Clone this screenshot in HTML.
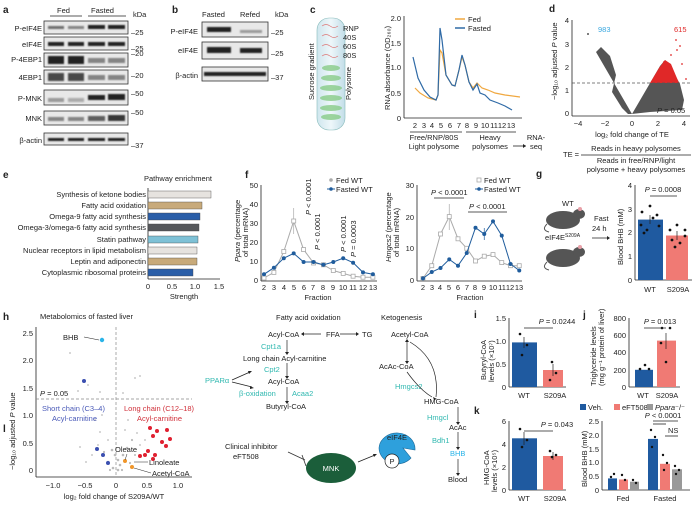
<!DOCTYPE html>
<html><head><meta charset="utf-8"><style>
html,body{margin:0;padding:0;background:#fff;}
svg{display:block;font-family:"Liberation Sans",Arial,sans-serif;}
text{fill:#222;}
.s{font-size:7.5px}
.b{font-weight:bold;font-size:10px}
.ax{stroke:#222;stroke-width:0.8;fill:none}
</style></head><body>
<svg width="693" height="505" viewBox="0 0 693 505">
<defs>
<filter id="bl"><feGaussianBlur stdDeviation="0.9"/></filter>
<linearGradient id="tube" x1="0" x2="1"><stop offset="0" stop-color="#cfe6ee"/><stop offset="0.5" stop-color="#eef7fa"/><stop offset="1" stop-color="#c2dde8"/></linearGradient>
</defs>

<!-- ===== a ===== -->
<text x="3" y="13" class="b">a</text>
<text x="57" y="13" class="s">Fed</text><line x1="50" y1="16" x2="82" y2="16" class="ax"/>
<text x="91" y="13" class="s">Fasted</text><line x1="88" y1="16" x2="126" y2="16" class="ax"/>
<text x="133" y="17" class="s">kDa</text>
<g class="s" text-anchor="end">
<text x="42" y="31">P-eIF4E</text><text x="42" y="47">eIF4E</text><text x="42" y="62">P-4EBP1</text>
<text x="42" y="80">4EBP1</text><text x="42" y="101">P-MNK</text><text x="42" y="121">MNK</text><text x="42" y="143">β-actin</text>
</g>
<g fill="#e8e8e8" stroke="#333" stroke-width="0.8">
<rect x="44" y="21" width="84" height="13"/><rect x="44" y="37" width="84" height="13"/>
<rect x="44" y="53" width="84" height="14"/><rect x="44" y="70" width="84" height="14"/>
<rect x="44" y="90" width="84" height="15"/><rect x="44" y="111" width="84" height="14"/>
<rect x="44" y="133" width="84" height="12"/>
</g>
<g filter="url(#bl)" fill="#222">
<rect x="48" y="26" width="16" height="3" opacity=".6"/><rect x="68" y="26" width="16" height="3" opacity=".5"/><rect x="88" y="25" width="17" height="4"/><rect x="108" y="25" width="17" height="4"/>
<rect x="48" y="42" width="16" height="4"/><rect x="68" y="42" width="16" height="4"/><rect x="88" y="42" width="17" height="4"/><rect x="108" y="42" width="17" height="4"/>
<rect x="48" y="56" width="16" height="8"/><rect x="68" y="56" width="16" height="8"/><rect x="88" y="58" width="17" height="5" opacity=".5"/><rect x="108" y="58" width="17" height="5" opacity=".5"/>
<rect x="48" y="73" width="16" height="8" opacity=".8"/><rect x="68" y="73" width="16" height="8" opacity=".8"/><rect x="88" y="75" width="17" height="5" opacity=".5"/><rect x="108" y="75" width="17" height="5" opacity=".5"/>
<rect x="48" y="98" width="16" height="4" opacity=".4"/><rect x="68" y="98" width="16" height="4" opacity=".3"/><rect x="88" y="95" width="17" height="5"/><rect x="108" y="94" width="17" height="6"/>
<rect x="48" y="117" width="16" height="4" opacity=".5"/><rect x="68" y="117" width="16" height="4" opacity=".5"/><rect x="88" y="116" width="17" height="5" opacity=".7"/><rect x="108" y="115" width="17" height="6" opacity=".9"/>
<rect x="48" y="138" width="16" height="3"/><rect x="68" y="138" width="16" height="3"/><rect x="88" y="138" width="17" height="3"/><rect x="108" y="138" width="17" height="3"/>
</g>
<g class="s"><text x="131" y="35">–25</text><text x="131" y="51">–25</text><text x="131" y="56">–20</text><text x="131" y="78">–20</text><text x="131" y="96">–50</text><text x="131" y="115">–50</text><text x="131" y="148">–37</text></g>

<!-- ===== b ===== -->
<text x="172" y="13" class="b">b</text>
<text x="202" y="17" class="s">Fasted</text><text x="240" y="17" class="s">Refed</text><text x="275" y="17" class="s">kDa</text>
<g class="s" text-anchor="end"><text x="198" y="34">P-eIF4E</text><text x="198" y="53">eIF4E</text><text x="198" y="78">β-actin</text></g>
<g fill="#e8e8e8" stroke="#333" stroke-width="0.8"><rect x="202" y="22" width="66" height="15"/><rect x="202" y="42" width="66" height="17"/><rect x="202" y="67" width="66" height="14"/></g>
<g filter="url(#bl)" fill="#222"><rect x="207" y="27" width="24" height="5"/><rect x="240" y="30" width="22" height="3" opacity=".4"/>
<rect x="207" y="47" width="24" height="6"/><rect x="240" y="48" width="22" height="5"/>
<rect x="204" y="72" width="62" height="4"/></g>
<g class="s"><text x="271" y="35">–25</text><text x="271" y="56">–25</text><text x="271" y="80">–37</text></g>

<!-- ===== c ===== -->
<text x="310" y="13" class="b">c</text>
<rect x="317" y="18" width="28" height="112" rx="12" fill="url(#tube)" stroke="#8bb" stroke-width="0.6"/>
<g stroke="#d77" stroke-width="0.7" fill="none"><path d="M322,26 q4,-3 8,0 t8,0"/><path d="M322,36 q4,-3 8,0 t8,0"/><path d="M322,46 q4,-3 8,0 t8,0"/><path d="M322,56 q4,-3 8,0 t8,0"/></g>
<g fill="#8c8" opacity=".8"><ellipse cx="331" cy="68" rx="9" ry="3"/><ellipse cx="331" cy="78" rx="10" ry="3"/><ellipse cx="331" cy="88" rx="11" ry="3"/><ellipse cx="331" cy="98" rx="11" ry="3"/><ellipse cx="331" cy="108" rx="11" ry="3"/><ellipse cx="331" cy="117" rx="10" ry="3"/></g>
<g class="s"><text x="343" y="31">RNP</text><text x="343" y="40">40S</text><text x="343" y="49">60S</text><text x="343" y="58">80S</text></g>
<text transform="translate(314,100) rotate(-90)" class="s">Sucrose gradient</text>
<text transform="translate(351,100) rotate(-90)" class="s">Polysome</text>
<line x1="404" y1="16" x2="404" y2="118" class="ax"/><line x1="404" y1="118" x2="522" y2="118" class="ax"/>
<g class="s" text-anchor="end"><text x="401" y="21">2.0</text><text x="401" y="46">1.5</text><text x="401" y="70">1.0</text><text x="401" y="96">0.5</text><text x="401" y="121">0</text></g>
<text transform="translate(390,110) rotate(-90)" class="s">RNA absorbance (OD₂₆₀)</text>
<g class="s" text-anchor="middle">
<text x="415" y="128">2</text><text x="424" y="128">3</text><text x="432" y="128">4</text><text x="441" y="128">5</text><text x="450" y="128">6</text><text x="459" y="128">7</text><text x="467" y="128">8</text><text x="476" y="128">9</text><text x="485" y="128">10</text><text x="494" y="128">11</text><text x="502" y="128">12</text><text x="511" y="128">13</text>
<text x="434" y="140">Free/RNP/80S</text><text x="434" y="149">Light polysome</text>
<text x="490" y="140">Heavy</text><text x="490" y="149">polysomes</text>
<text x="536" y="140">RNA-</text><text x="536" y="149">seq</text></g>
<line x1="410" y1="132" x2="462" y2="132" class="ax"/><line x1="466" y1="132" x2="516" y2="132" class="ax"/>
<line x1="513" y1="146" x2="526" y2="146" class="ax"/><path d="M526,146 l-3,-2 v4z" fill="#222"/>
<polyline fill="none" stroke="#f0a840" stroke-width="1.2" points="415,88 420,93 428,98 436,100 438,95 440,50 442,53 446,75 452,85 455,86 459,70 462,57 465,65 469,82 473,88 477,83 482,88 488,90 495,93 505,95 520,97"/>
<polyline fill="none" stroke="#2f6aa6" stroke-width="1.2" points="413,57 418,78 424,90 430,97 436,100 438,95 440,28 442,40 446,75 452,85 455,86 459,70 462,55 465,65 469,82 473,90 477,84 480,93 485,95 490,100 498,103 505,106 512,110"/>
<line x1="455" y1="19" x2="465" y2="19" stroke="#f0a840" stroke-width="1.5"/><text x="468" y="22" class="s">Fed</text>
<line x1="455" y1="28" x2="465" y2="28" stroke="#2f6aa6" stroke-width="1.5"/><text x="468" y="31" class="s">Fasted</text>

<!-- ===== d ===== -->
<text x="549" y="12" class="b">d</text>
<line x1="572" y1="20" x2="572" y2="116" class="ax"/><line x1="572" y1="116" x2="690" y2="116" class="ax"/>
<g class="s" text-anchor="end"><text x="569" y="23">4</text><text x="569" y="47">3</text><text x="569" y="70">2</text><text x="569" y="93">1</text><text x="569" y="116">0</text></g>
<g class="s" text-anchor="middle"><text x="578" y="126">−4</text><text x="605" y="126">−2</text><text x="632" y="126">0</text><text x="658" y="126">2</text><text x="684" y="126">4</text>
<text x="632" y="137">log₂ fold change of TE</text></g>
<text transform="translate(557,100) rotate(-90)" class="s">−log₁₀ adjusted <tspan font-style="italic">P</tspan> value</text>
<polygon points="632,114 596,52 601,47 610,56 616,75 612,92 622,108 628,114" fill="#555"/>
<polygon points="632,114 660,66 665,60 670,66 680,84 684,100 682,110 650,112" fill="#555"/>
<polygon points="650,83 659,68 665,60 671,64 679,83" fill="#e02828"/>
<g fill="#e02828"><circle cx="676" cy="40" r="0.9"/><circle cx="680" cy="46" r="0.9"/><circle cx="671" cy="55" r="0.9"/><circle cx="682" cy="64" r="0.9"/><circle cx="686" cy="79" r="0.9"/><circle cx="664" cy="62" r="0.9"/><circle cx="677" cy="50" r="0.9"/></g>
<circle cx="588" cy="34" r="1" fill="#555"/>
<line x1="572" y1="83" x2="690" y2="83" stroke="#555" stroke-width="0.7" stroke-dasharray="3,2"/>
<text x="598" y="32" class="s" style="fill:#3aa8e0">983</text>
<text x="674" y="32" class="s" style="fill:#e02828">615</text>
<text x="657" y="113" class="s"><tspan font-style="italic">P</tspan> = 0.05</text>
<text x="563" y="157" class="s">TE =</text>
<line x1="581" y1="155" x2="691" y2="155" class="ax"/>
<text x="636" y="151" class="s" text-anchor="middle">Reads in heavy polysomes</text>
<text x="636" y="163" class="s" text-anchor="middle">Reads in free/RNP/light</text>
<text x="636" y="172" class="s" text-anchor="middle">polysome + heavy polysomes</text>

<!-- ===== e ===== -->
<text x="3" y="178" class="b">e</text>
<text x="144" y="181" class="s">Pathway enrichment</text>
<line x1="148" y1="188" x2="148" y2="279" class="ax"/><line x1="148" y1="279" x2="220" y2="279" class="ax"/>
<g stroke="#444" stroke-width="0.4">
<rect x="148" y="191" width="63" height="7" fill="#e6e3df"/>
<rect x="148" y="202" width="54" height="7" fill="#c8aa7a"/>
<rect x="148" y="213" width="52" height="7" fill="#2a5ea8"/>
<rect x="148" y="224" width="51" height="7" fill="#55575a"/>
<rect x="148" y="236" width="50" height="7" fill="#7ec1d6"/>
<rect x="148" y="247" width="49" height="7" fill="#e6e3df"/>
<rect x="148" y="258" width="49" height="7" fill="#c8aa7a"/>
<rect x="148" y="269" width="45" height="7" fill="#2a5ea8"/></g>
<g class="s" text-anchor="end">
<text x="146" y="197">Synthesis of ketone bodies</text><text x="146" y="208">Fatty acid oxidation</text><text x="146" y="219">Omega-9 fatty acid synthesis</text><text x="146" y="230">Omega-3/omega-6 fatty acid synthesis</text><text x="146" y="242">Statin pathway</text><text x="146" y="253">Nuclear receptors in lipid metabolism</text><text x="146" y="264">Leptin and adiponectin</text><text x="146" y="275">Cytoplasmic ribosomal proteins</text></g>
<g class="s" text-anchor="middle"><text x="148" y="289">0</text><text x="172" y="289">0.5</text><text x="195" y="289">1.0</text><text x="219" y="289">1.5</text><text x="184" y="299">Strength</text></g>

<!-- ===== f ===== -->
<text x="245" y="178" class="b">f</text>
<line x1="261" y1="185" x2="261" y2="281" class="ax"/><line x1="261" y1="281" x2="377" y2="281" class="ax"/>
<g class="s" text-anchor="end"><text x="258" y="188">50</text><text x="258" y="207">40</text><text x="258" y="226">30</text><text x="258" y="245">20</text><text x="258" y="264">10</text><text x="258" y="283">0</text></g>
<text transform="translate(240,262) rotate(-90)" class="s"><tspan font-style="italic">Ppara</tspan> (percentage</text>
<text transform="translate(248,257) rotate(-90)" class="s">of total mRNA)</text>
<g class="s" text-anchor="middle" font-size="6.5">
<text x="264" y="290">2</text><text x="274" y="290">3</text><text x="284" y="290">4</text><text x="294" y="290">5</text><text x="304" y="290">6</text><text x="313" y="290">7</text><text x="323" y="290">8</text><text x="333" y="290">9</text><text x="343" y="290">10</text><text x="353" y="290">11</text><text x="363" y="290">12</text><text x="373" y="290">13</text></g>
<text x="318" y="300" class="s" text-anchor="middle">Fraction</text>
<line x1="293.7" y1="208" x2="293.7" y2="234" stroke="#aaa" stroke-width="0.7"/>
<polyline fill="none" stroke="#aaa" stroke-width="1" points="264,278 273.9,272.4 283.8,251.5 293.7,221.1 303.6,249.6 313.5,262.9 323.4,264.8 333.3,270.5 343.2,273.4 353.1,276.2 363,277.2 372.9,277.2"/>
<g fill="#fff" stroke="#aaa" stroke-width="0.8"><rect x="262" y="276" width="4" height="4"/><rect x="271.9" y="270.4" width="4" height="4"/><rect x="281.8" y="249.5" width="4" height="4"/><rect x="291.7" y="219" width="4" height="4"/><rect x="301.6" y="247.6" width="4" height="4"/><rect x="311.5" y="261" width="4" height="4"/><rect x="321.4" y="262.8" width="4" height="4"/><rect x="331.3" y="268.5" width="4" height="4"/><rect x="341.2" y="271.4" width="4" height="4"/><rect x="351.1" y="274.2" width="4" height="4"/><rect x="361" y="275.2" width="4" height="4"/><rect x="370.9" y="275.2" width="4" height="4"/></g>
<polyline fill="none" stroke="#1f5c9c" stroke-width="1" points="264,274.3 273.9,267.7 283.8,258.2 293.7,253.4 303.6,262 313.5,262 323.4,264.8 333.3,262 343.2,258.2 353.1,262.7 363,272.4 372.9,274.3"/>
<g fill="#1f5c9c"><circle cx="264" cy="274.3" r="2"/><circle cx="273.9" cy="267.7" r="2"/><circle cx="283.8" cy="258.2" r="2"/><circle cx="293.7" cy="253.4" r="2"/><circle cx="303.6" cy="262" r="2"/><circle cx="313.5" cy="262" r="2"/><circle cx="323.4" cy="264.8" r="2"/><circle cx="333.3" cy="262" r="2"/><circle cx="343.2" cy="258.2" r="2"/><circle cx="353.1" cy="262.7" r="2"/><circle cx="363" cy="272.4" r="2"/><circle cx="372.9" cy="274.3" r="2"/></g>
<g class="s"><text transform="translate(311,215) rotate(-90)"><tspan font-style="italic">P</tspan> &lt; 0.0001</text>
<text transform="translate(320,250) rotate(-90)"><tspan font-style="italic">P</tspan> &lt; 0.0001</text>
<text transform="translate(346,252) rotate(-90)"><tspan font-style="italic">P</tspan> &lt; 0.0001</text>
<text transform="translate(356,257) rotate(-90)"><tspan font-style="italic">P</tspan> = 0.0003</text></g>
<circle cx="331" cy="180" r="1.8" fill="#aaa"/><text x="336" y="183" class="s">Fed WT</text>
<line x1="327" y1="189" x2="335" y2="189" stroke="#1f5c9c"/><circle cx="331" cy="189" r="1.8" fill="#1f5c9c"/><text x="336" y="192" class="s">Fasted WT</text>

<!-- Hmgcs2 -->
<line x1="417" y1="185" x2="417" y2="281" class="ax"/><line x1="417" y1="281" x2="522" y2="281" class="ax"/>
<g class="s" text-anchor="end"><text x="414" y="188">30</text><text x="414" y="220">20</text><text x="414" y="251">10</text><text x="414" y="283">0</text></g>
<text transform="translate(391,262) rotate(-90)" class="s"><tspan font-style="italic">Hmgcs2</tspan> (percentage</text>
<text transform="translate(399,257) rotate(-90)" class="s">of total mRNA)</text>
<g class="s" text-anchor="middle" font-size="6.5">
<text x="423" y="290">2</text><text x="432" y="290">3</text><text x="440" y="290">4</text><text x="449" y="290">5</text><text x="458" y="290">6</text><text x="467" y="290">7</text><text x="475" y="290">8</text><text x="484" y="290">9</text><text x="493" y="290">10</text><text x="502" y="290">11</text><text x="510" y="290">12</text><text x="519" y="290">13</text></g>
<text x="470" y="300" class="s" text-anchor="middle">Fraction</text>
<line x1="449.25" y1="204" x2="449.25" y2="230" stroke="#aaa" stroke-width="0.7"/>
<line x1="484.25" y1="228" x2="484.25" y2="240" stroke="#1f5c9c" stroke-width="0.7"/>
<polyline fill="none" stroke="#aaa" stroke-width="1" points="423,278.4 431.75,265.7 440.5,234 449.25,216.6 458,238.8 466.75,248.3 475.5,261 484.25,256.2 493,254.6 501.75,262.6 510.5,265.7 519.25,265.7"/>
<g fill="#fff" stroke="#aaa" stroke-width="0.8"><rect x="421" y="276.4" width="4" height="4"/><rect x="429.75" y="263.7" width="4" height="4"/><rect x="438.5" y="232" width="4" height="4"/><rect x="447.25" y="214.6" width="4" height="4"/><rect x="456" y="236.8" width="4" height="4"/><rect x="464.75" y="246.3" width="4" height="4"/><rect x="473.5" y="259" width="4" height="4"/><rect x="482.25" y="254.2" width="4" height="4"/><rect x="491" y="252.6" width="4" height="4"/><rect x="499.75" y="260.6" width="4" height="4"/><rect x="508.5" y="263.7" width="4" height="4"/><rect x="517.25" y="263.7" width="4" height="4"/></g>
<polyline fill="none" stroke="#1f5c9c" stroke-width="1" points="423,278.4 431.75,272 440.5,268 449.25,259.4 458,265.7 466.75,253 475.5,227.7 484.25,234 493,221.4 501.75,235.6 510.5,264 519.25,270.5"/>
<g fill="#1f5c9c"><circle cx="423" cy="278.4" r="2"/><circle cx="431.75" cy="272" r="2"/><circle cx="440.5" cy="268" r="2"/><circle cx="449.25" cy="259.4" r="2"/><circle cx="458" cy="265.7" r="2"/><circle cx="466.75" cy="253" r="2"/><circle cx="475.5" cy="227.7" r="2"/><circle cx="484.25" cy="234" r="2"/><circle cx="493" cy="221.4" r="2"/><circle cx="501.75" cy="235.6" r="2"/><circle cx="510.5" cy="264" r="2"/><circle cx="519.25" cy="270.5" r="2"/></g>
<text x="431" y="195" class="s"><tspan font-style="italic">P</tspan> &lt; 0.0001</text><line x1="434" y1="198" x2="464" y2="198" class="ax"/>
<text x="469" y="209" class="s"><tspan font-style="italic">P</tspan> &lt; 0.0001</text><line x1="468" y1="212" x2="507" y2="212" class="ax"/>
<rect x="477" y="178" width="4" height="4" fill="#fff" stroke="#aaa" stroke-width="0.8"/><text x="484" y="183" class="s">Fed WT</text>
<line x1="475" y1="189" x2="483" y2="189" stroke="#1f5c9c"/><circle cx="479" cy="189" r="1.8" fill="#1f5c9c"/><text x="484" y="192" class="s">Fasted WT</text>

<!-- ===== g ===== -->
<text x="536" y="177" class="b">g</text>
<text x="562" y="206" class="s">WT</text>
<g fill="#555"><ellipse cx="563" cy="220" rx="17" ry="9"/><ellipse cx="579" cy="214" rx="6" ry="5"/><ellipse cx="563" cy="258" rx="17" ry="9"/><ellipse cx="579" cy="252" rx="6" ry="5"/></g>
<g fill="#e9a0a8"><circle cx="580" cy="209" r="2"/><circle cx="580" cy="247" r="2"/></g>
<path d="M547,224 q-6,6 2,8" stroke="#555" fill="none"/><path d="M547,262 q-6,6 2,8" stroke="#555" fill="none"/>
<text x="545" y="240" class="s">eIF4E<tspan font-size="5" dy="-3">S209A</tspan></text>
<text x="594" y="221" class="s">Fast</text><text x="592" y="231" class="s">24 h</text>
<line x1="592" y1="238" x2="609" y2="238" class="ax"/><path d="M610,238 l-3,-2 v4z" fill="#222"/>
<line x1="635" y1="185" x2="635" y2="280" class="ax"/><line x1="635" y1="280" x2="692" y2="280" class="ax"/>
<g class="s" text-anchor="end"><text x="632" y="188">4</text><text x="632" y="212">3</text><text x="632" y="235">2</text><text x="632" y="259">1</text><text x="632" y="283">0</text></g>
<text transform="translate(623,265) rotate(-90)" class="s">Blood BHB (mM)</text>
<rect x="638" y="219.6" width="25" height="60.4" fill="#1f5aa0"/>
<rect x="666" y="235.5" width="22" height="44.5" fill="#f07a74"/>
<g stroke="#222" stroke-width="0.7"><line x1="650" y1="215" x2="650" y2="224"/><line x1="677" y1="231" x2="677" y2="240"/></g>
<g fill="#111"><circle cx="642" cy="212" r="1.4"/><circle cx="650" cy="206" r="1.4"/><circle cx="657" cy="215" r="1.4"/><circle cx="641" cy="225" r="1.4"/><circle cx="647" cy="230" r="1.4"/><circle cx="659" cy="226" r="1.4"/><circle cx="653" cy="218" r="1.4"/><circle cx="644" cy="233" r="1.4"/>
<circle cx="670" cy="230" r="1.4"/><circle cx="677" cy="225" r="1.4"/><circle cx="685" cy="230" r="1.4"/><circle cx="672" cy="240" r="1.4"/><circle cx="680" cy="243" r="1.4"/><circle cx="685" cy="236" r="1.4"/><circle cx="675" cy="247" r="1.4"/></g>
<text x="663" y="192" class="s" text-anchor="middle"><tspan font-style="italic">P</tspan> = 0.0008</text><line x1="650" y1="196" x2="677" y2="196" class="ax"/>
<text x="650" y="292" class="s" text-anchor="middle">WT</text><text x="678" y="292" class="s" text-anchor="middle">S209A</text>

<!-- ===== h ===== -->
<text x="3" y="320" class="b">h</text>
<text x="40" y="319" class="s">Metabolomics of fasted liver</text>
<line x1="36" y1="327" x2="36" y2="477" class="ax"/><line x1="36" y1="477" x2="192" y2="477" class="ax"/>
<g class="s" text-anchor="end"><text x="33" y="336">2.5</text><text x="33" y="363">2.0</text><text x="33" y="391">1.5</text><text x="33" y="418">1.0</text><text x="33" y="446">0.5</text><text x="33" y="473">0</text></g>
<text transform="translate(15,470) rotate(-90)" class="s">−log₁₀ adjusted <tspan font-style="italic">P</tspan> value</text>
<g class="s" text-anchor="middle"><text x="53" y="488">−1.0</text><text x="85" y="488">−0.5</text><text x="116" y="488">0</text><text x="147" y="488">0.5</text><text x="178" y="488">1.0</text>
<text x="114" y="499">log₂ fold change of S209A/WT</text></g>
<line x1="36" y1="399" x2="192" y2="399" stroke="#888" stroke-width="0.7" stroke-dasharray="3,2"/>
<line x1="116" y1="327" x2="116" y2="477" stroke="#888" stroke-width="0.7" stroke-dasharray="3,2"/>
<g fill="#bbb"><circle cx="70" cy="353" r="0.9"/><circle cx="88" cy="385" r="0.9"/><circle cx="100" cy="392" r="0.9"/><circle cx="135" cy="378" r="0.9"/><circle cx="140" cy="376" r="0.9"/><circle cx="123" cy="393" r="0.9"/><circle cx="78" cy="391" r="0.9"/><circle cx="95" cy="420" r="0.9"/><circle cx="100" cy="432" r="0.9"/><circle cx="108" cy="440" r="0.9"/><circle cx="112" cy="450" r="1.3"/><circle cx="115" cy="455" r="1.3"/><circle cx="118" cy="460" r="1.3"/><circle cx="120" cy="465" r="1.3"/><circle cx="113" cy="468" r="1.3"/><circle cx="108" cy="462" r="1.3"/><circle cx="123" cy="455" r="1.3"/><circle cx="127" cy="448" r="1.3"/><circle cx="132" cy="440" r="1.1"/><circle cx="125" cy="430" r="0.9"/><circle cx="137" cy="433" r="0.9"/><circle cx="140" cy="445" r="0.9"/><circle cx="104" cy="452" r="1.1"/><circle cx="98" cy="445" r="0.9"/><circle cx="92" cy="455" r="0.9"/><circle cx="86" cy="462" r="0.9"/><circle cx="80" cy="447" r="0.9"/><circle cx="130" cy="463" r="1.1"/><circle cx="135" cy="455" r="1"/><circle cx="145" cy="440" r="0.9"/><circle cx="118" cy="470" r="1.3"/><circle cx="110" cy="470" r="1.1"/><circle cx="122" cy="470" r="1.1"/><circle cx="102" cy="415" r="0.9"/><circle cx="128" cy="420" r="0.9"/></g>
<circle cx="102" cy="340" r="2.2" fill="#2ab4e8"/><line x1="84" y1="337" x2="99" y2="340" stroke="#222" stroke-width="0.6"/><text x="63" y="340" class="s">BHB</text>
<g fill="#3b4fb0"><circle cx="84" cy="381" r="2"/><circle cx="97" cy="449" r="2"/><circle cx="103" cy="455" r="2"/><circle cx="108" cy="463" r="2"/></g>
<g fill="#e02030"><circle cx="150" cy="428" r="2"/><circle cx="157" cy="431" r="2"/><circle cx="167" cy="430" r="2"/><circle cx="153" cy="436" r="2"/><circle cx="162" cy="442" r="2"/><circle cx="170" cy="439" r="2"/><circle cx="166" cy="446" r="2"/><circle cx="148" cy="451" r="2"/><circle cx="145" cy="455" r="2"/><circle cx="155" cy="455" r="2"/><circle cx="153" cy="459" r="2"/><circle cx="140" cy="456" r="2"/></g>
<g fill="#f0962a"><circle cx="125" cy="461" r="2"/><circle cx="132" cy="467" r="2"/></g>
<text x="40" y="396" class="s"><tspan font-style="italic">P</tspan> = 0.05</text>
<text x="42" y="411" class="s" style="fill:#4a5ab8">Short chain (C3–4)</text><text x="52" y="421" class="s" style="fill:#4a5ab8">Acyl-carnitine</text>
<text x="124" y="411" class="s" style="fill:#d0303a">Long chain (C12–18)</text><text x="137" y="421" class="s" style="fill:#d0303a">Acyl-carnitine</text>
<text x="115" y="452" class="s">Oleate</text><text x="149" y="465" class="s">Linoleate</text><text x="152" y="476" class="s">Acetyl-CoA</text>
<line x1="127" y1="454" x2="125" y2="460" stroke="#222" stroke-width="0.5"/><line x1="134" y1="462" x2="148" y2="462" stroke="#222" stroke-width="0.5"/><line x1="134" y1="468" x2="151" y2="473" stroke="#222" stroke-width="0.5"/>

<!-- Pathways -->
<g class="s">
<text x="276" y="320">Fatty acid oxidation</text>
<text x="268" y="337">Acyl-CoA</text><text x="326" y="337">FFA</text><text x="362" y="337">TG</text>
<text x="261" y="349" style="fill:#30b8b0">Cpt1a</text>
<text x="243" y="361">Long chain Acyl-carnitine</text>
<text x="264" y="372" style="fill:#30b8b0">Cpt2</text>
<text x="205" y="383" style="fill:#30b8b0">PPARα</text>
<text x="268" y="384">Acyl-CoA</text>
<text x="239" y="396" style="fill:#30b8b0">β-oxidation</text><text x="292" y="396" style="fill:#30b8b0">Acaa2</text>
<text x="266" y="409">Butyryl-CoA</text>
<text x="381" y="320">Ketogenesis</text>
<text x="391" y="337">Acetyl-CoA</text>
<text x="379" y="369">AcAc-CoA</text>
<text x="395" y="389" style="fill:#30b8b0">Hmgcs2</text>
<text x="424" y="404">HMG-CoA</text>
<text x="427" y="420" style="fill:#30b8b0">Hmgcl</text>
<text x="449" y="430">AcAc</text>
<text x="432" y="443" style="fill:#30b8b0">Bdh1</text>
<text x="450" y="456" style="fill:#2ab4e8">BHB</text>
<text x="448" y="482">Blood</text>
</g>
<g stroke="#222" stroke-width="0.7" fill="none">
<line x1="321" y1="334" x2="303" y2="334"/><line x1="340" y1="334" x2="357" y2="334"/>
<line x1="287" y1="340" x2="287" y2="353"/><line x1="287" y1="363" x2="287" y2="377"/><line x1="287" y1="387" x2="287" y2="402"/>
<path d="M232,380 L250,372"/><path d="M232,382 L252,387"/>
<line x1="407" y1="340" x2="407" y2="362"/><path d="M410,342 Q440,360 436,397"/><path d="M407,372 Q420,390 432,397"/>
<line x1="458" y1="407" x2="458" y2="423"/><line x1="458" y1="432" x2="458" y2="448"/><line x1="458" y1="459" x2="458" y2="474"/>
</g>
<g fill="#222"><path d="M301,334 l3,-2 v4z"/><path d="M359,334 l-3,-2 v4z"/><path d="M287,355 l-2,-3 h4z"/><path d="M287,379 l-2,-3 h4z"/><path d="M287,404 l-2,-3 h4z"/><path d="M252,371 l-4,0 l1,3z"/><path d="M254,388 l-4,-2 l0,3z"/><path d="M407,364 l-2,-3 h4z"/><path d="M407,339 l-2,3 h4z"/><path d="M437,399 l-4,-2 l1,3z"/><path d="M458,425 l-2,-3 h4z"/><path d="M458,450 l-2,-3 h4z"/><path d="M458,476 l-2,-3 h4z"/></g>

<!-- ===== l ===== -->
<text x="3" y="432" class="b">l</text>
<text x="225" y="449" class="s">Clinical inhibitor</text><text x="233" y="459" class="s">eFT508</text>
<line x1="288" y1="452" x2="305" y2="460" stroke="#333" stroke-width="0.8"/><line x1="302" y1="455" x2="306" y2="466" stroke="#333" stroke-width="0.8"/>
<ellipse cx="331" cy="468" rx="25" ry="15" fill="#1b5e3a"/><text x="331" y="471" class="s" text-anchor="middle" style="fill:#fff">MNK</text>
<line x1="358" y1="462" x2="375" y2="455" class="ax"/><path d="M377,454 l-4,0 l1,3z" fill="#222"/>
<path d="M397,448 m-18,0 a18,16 0 1,1 36,2 l-12,-2 l8,10 a18,16 0 0,1 -32,-10z" fill="#2ea0dc" stroke="#1a6a9a" stroke-width="0.6"/>
<text x="397" y="440" class="s" text-anchor="middle">eIF4E</text>
<circle cx="392" cy="461" r="7" fill="#fff" stroke="#222" stroke-width="0.7"/><text x="392" y="464" class="s" text-anchor="middle">P</text>

<!-- ===== i ===== -->
<text x="474" y="318" class="b">i</text>
<line x1="509" y1="318" x2="509" y2="387" class="ax"/><line x1="509" y1="387" x2="566" y2="387" class="ax"/>
<g class="s" text-anchor="end"><text x="506" y="321">1.5</text><text x="506" y="344">1.0</text><text x="506" y="367">0.5</text><text x="506" y="390">0</text></g>
<text transform="translate(486,380) rotate(-90)" class="s">Butyryl-CoA</text><text transform="translate(494,382) rotate(-90)" class="s" font-size="6.5">levels (×10⁷)</text>
<rect x="512" y="342.4" width="25" height="44.6" fill="#1f5aa0"/><rect x="543" y="370" width="20" height="17" fill="#f07a74"/>
<g stroke="#222" stroke-width="0.7"><line x1="524" y1="337" x2="524" y2="348"/><line x1="553" y1="364" x2="553" y2="376"/></g>
<g fill="#111"><circle cx="520" cy="334" r="1.3"/><circle cx="527" cy="345" r="1.3"/><circle cx="522" cy="355" r="1.3"/><circle cx="552" cy="362" r="1.3"/><circle cx="556" cy="373" r="1.3"/><circle cx="550" cy="380" r="1.3"/></g>
<text x="557" y="324" class="s" text-anchor="middle"><tspan font-style="italic">P</tspan> = 0.0244</text><line x1="524" y1="328" x2="553" y2="328" class="ax"/>
<text x="524" y="398" class="s" text-anchor="middle">WT</text><text x="555" y="398" class="s" text-anchor="middle">S209A</text>

<!-- ===== j ===== -->
<text x="583" y="318" class="b">j</text>
<line x1="629" y1="318" x2="629" y2="387" class="ax"/><line x1="629" y1="387" x2="680" y2="387" class="ax"/>
<g class="s" text-anchor="end"><text x="626" y="321">800</text><text x="626" y="338">600</text><text x="626" y="355">400</text><text x="626" y="373">200</text><text x="626" y="390">0</text></g>
<text transform="translate(596,386) rotate(-90)" class="s" font-size="6.5">Triglyceride levels</text><text transform="translate(604,386) rotate(-90)" class="s" font-size="6.5">(mg g⁻¹ protein of liver)</text>
<rect x="635" y="369.8" width="18" height="17.2" fill="#1f5aa0"/><rect x="657" y="340.6" width="19" height="46.4" fill="#f07a74"/>
<g stroke="#222" stroke-width="0.7"><line x1="666" y1="333" x2="666" y2="349"/></g>
<g fill="#111"><circle cx="640" cy="369" r="1.3"/><circle cx="645" cy="365" r="1.3"/><circle cx="649" cy="369" r="1.3"/><circle cx="662" cy="328" r="1.3"/><circle cx="670" cy="328" r="1.3"/><circle cx="661" cy="343" r="1.3"/><circle cx="666" cy="362" r="1.3"/></g>
<text x="660" y="324" class="s" text-anchor="middle"><tspan font-style="italic">P</tspan> = 0.013</text><line x1="644" y1="328" x2="666" y2="328" class="ax"/>
<text x="643" y="398" class="s" text-anchor="middle">WT</text><text x="667" y="398" class="s" text-anchor="middle">S209A</text>

<!-- ===== k ===== -->
<text x="474" y="414" class="b">k</text>
<line x1="509" y1="421" x2="509" y2="490" class="ax"/><line x1="509" y1="490" x2="566" y2="490" class="ax"/>
<g class="s" text-anchor="end"><text x="506" y="424">6</text><text x="506" y="447">4</text><text x="506" y="470">2</text><text x="506" y="493">0</text></g>
<text transform="translate(489,485) rotate(-90)" class="s">HMG-CoA</text><text transform="translate(497,492) rotate(-90)" class="s" font-size="6.5">levels (×10⁵)</text>
<rect x="512" y="438.3" width="25" height="51.7" fill="#1f5aa0"/><rect x="543" y="456" width="20" height="34" fill="#f07a74"/>
<g stroke="#222" stroke-width="0.7"><line x1="524" y1="432" x2="524" y2="445"/><line x1="553" y1="452" x2="553" y2="460"/></g>
<g fill="#111"><circle cx="520" cy="429" r="1.3"/><circle cx="527" cy="440" r="1.3"/><circle cx="522" cy="447" r="1.3"/><circle cx="550" cy="451" r="1.3"/><circle cx="556" cy="455" r="1.3"/><circle cx="552" cy="457" r="1.3"/></g>
<text x="557" y="427" class="s" text-anchor="middle"><tspan font-style="italic">P</tspan> = 0.043</text><line x1="524" y1="431" x2="553" y2="431" class="ax"/>
<text x="524" y="501" class="s" text-anchor="middle">WT</text><text x="555" y="501" class="s" text-anchor="middle">S209A</text>

<!-- ===== last ===== -->
<rect x="580" y="404" width="6" height="6" fill="#1f5aa0"/><text x="588" y="410" class="s">Veh.</text>
<rect x="614" y="404" width="6" height="6" fill="#f07a74"/><text x="622" y="410" class="s">eFT508</text>
<rect x="647" y="404" width="6" height="6" fill="#999"/><text x="655" y="410" class="s"><tspan font-style="italic">Ppara</tspan>⁻/⁻</text>
<line x1="602" y1="421" x2="602" y2="490" class="ax"/><line x1="602" y1="490" x2="690" y2="490" class="ax"/>
<g class="s" text-anchor="end"><text x="599" y="424">2.5</text><text x="599" y="438">2.0</text><text x="599" y="452">1.5</text><text x="599" y="465">1.0</text><text x="599" y="479">0.5</text><text x="599" y="493">0</text></g>
<text transform="translate(587,487) rotate(-90)" class="s">Blood BHB (mM)</text>
<rect x="608" y="478.4" width="9" height="11.6" fill="#1f5aa0"/><rect x="619" y="479.5" width="9" height="10.5" fill="#f07a74"/><rect x="630" y="481.7" width="9" height="8.3" fill="#999"/>
<rect x="648" y="438.9" width="10" height="51.1" fill="#1f5aa0"/><rect x="660" y="463.8" width="10" height="26.2" fill="#f07a74"/><rect x="672" y="469.3" width="10" height="20.7" fill="#999"/>
<g fill="#111"><circle cx="611" cy="477" r="1.2"/><circle cx="614" cy="474" r="1.2"/><circle cx="622" cy="475" r="1.2"/><circle cx="625" cy="480" r="1.2"/><circle cx="633" cy="480" r="1.2"/><circle cx="636" cy="483" r="1.2"/><circle cx="651" cy="430" r="1.2"/><circle cx="655" cy="437" r="1.2"/><circle cx="652" cy="447" r="1.2"/><circle cx="663" cy="455" r="1.2"/><circle cx="667" cy="463" r="1.2"/><circle cx="664" cy="470" r="1.2"/><circle cx="675" cy="466" r="1.2"/><circle cx="679" cy="470" r="1.2"/><circle cx="676" cy="474" r="1.2"/></g>
<text x="663" y="418" class="s" text-anchor="middle"><tspan font-style="italic">P</tspan> &lt; 0.0001</text>
<line x1="653" y1="421" x2="678" y2="421" class="ax"/><line x1="653" y1="424" x2="666" y2="424" class="ax"/>
<text x="668" y="433" class="s">NS</text><line x1="665" y1="436" x2="678" y2="436" class="ax"/>
<text x="623" y="501" class="s" text-anchor="middle">Fed</text><text x="665" y="501" class="s" text-anchor="middle">Fasted</text>
</svg>
</body></html>
